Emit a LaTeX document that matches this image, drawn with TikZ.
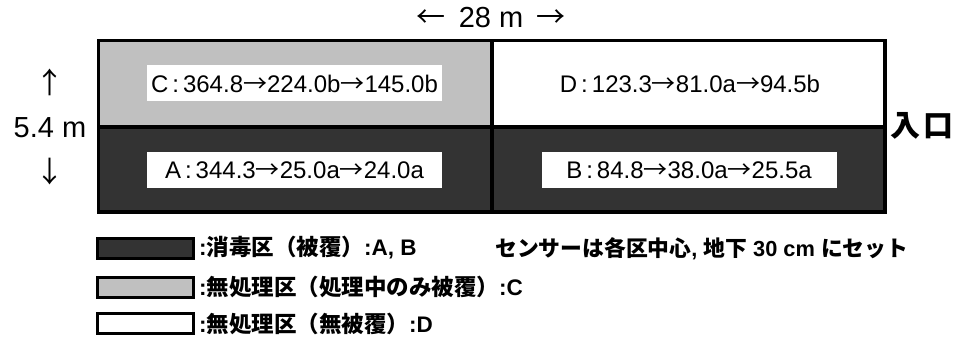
\documentclass[tikz,border=0pt]{standalone}
\usepackage{fontspec}
\setmainfont{Liberation Sans}
\newfontfamily\jp{Noto Sans CJK JP}
\definecolor{darkc}{HTML}{333333}
\definecolor{grayc}{HTML}{C0C0C0}
\begin{document}
\begin{tikzpicture}[x=1pt,y=-1pt,
  frame/.style={draw=black,line width=3.5pt},
  lab/.style={fill=white,minimum width=295pt,minimum height=36pt,inner sep=0pt,font=\fontsize{24}{24}\selectfont},
  dim/.style={inner sep=0pt,font=\fontsize{29}{29}\selectfont},
  legbox/.style={draw=black,line width=3pt,minimum width=96pt,minimum height=20pt,inner sep=0pt},
  legtext/.style={anchor=west,inner sep=0pt,font=\fontsize{22.5}{22.5}\selectfont\bfseries}]
\useasboundingbox (0,0) rectangle (957,342);
% field
\fill[grayc] (98.5,40.5) rectangle (492,127);
\fill[white] (492,40.5) rectangle (885,127);
\fill[darkc] (98.5,127) rectangle (885,212);
\draw[frame] (98.5,40.5) rectangle (885,212);
\draw[frame] (98.5,127) -- (885,127);
\draw[frame] (492,40.5) -- (492,212);
% labels
\node[lab] (C) at (294.5,83.5) {C\,:\,364.8{\jp →}224.0b{\jp →}145.0b};
\node[lab] (D) at (690,83.5) {D\,:\,123.3{\jp →}81.0a{\jp →}94.5b};
\node[lab] (A) at (294.5,170) {A\,:\,344.3{\jp →}25.0a{\jp →}24.0a};
\node[lab] (B) at (689,170) {B\,:\,84.8{\jp →}38.0a{\jp →}25.5a};
% dimensions
\node[dim] (w) at (491,18) {{\jp ←}\hspace{5pt} 28 m \hspace{5pt}{\jp →}};
\node[dim] (up) at (50,82) {\jp ↑};
\node[dim] (h) at (50,128) {5.4 m};
\node[dim] (dn) at (50,172) {\jp ↓};
\node[dim,font=\fontsize{30}{30}\selectfont\bfseries] (ent) at (922,126) {\jp 入\hspace{3pt}口};
% legend
\node[legbox,fill=darkc] (l1) at (145.5,248) {};
\node[legbox,fill=grayc] (l2) at (145.5,287) {};
\node[legbox,fill=white] (l3) at (145.5,323.5) {};
\node[legtext] (t1) at (199,248) {:{\jp 消毒区（被覆）}:A, B};
\node[legtext] (t2) at (199,287) {:{\jp 無処理区（処理中のみ被覆）}:C};
\node[legtext] (t3) at (199,323.5) {:{\jp 無処理区（無被覆）}:D};
\node[legtext,font=\fontsize{21.8}{21.8}\selectfont\bfseries] (s) at (495,249) {{\jp センサーは各区中心}, {\jp 地下} 30 cm {\jp にセット}};
\end{tikzpicture}
\end{document}
